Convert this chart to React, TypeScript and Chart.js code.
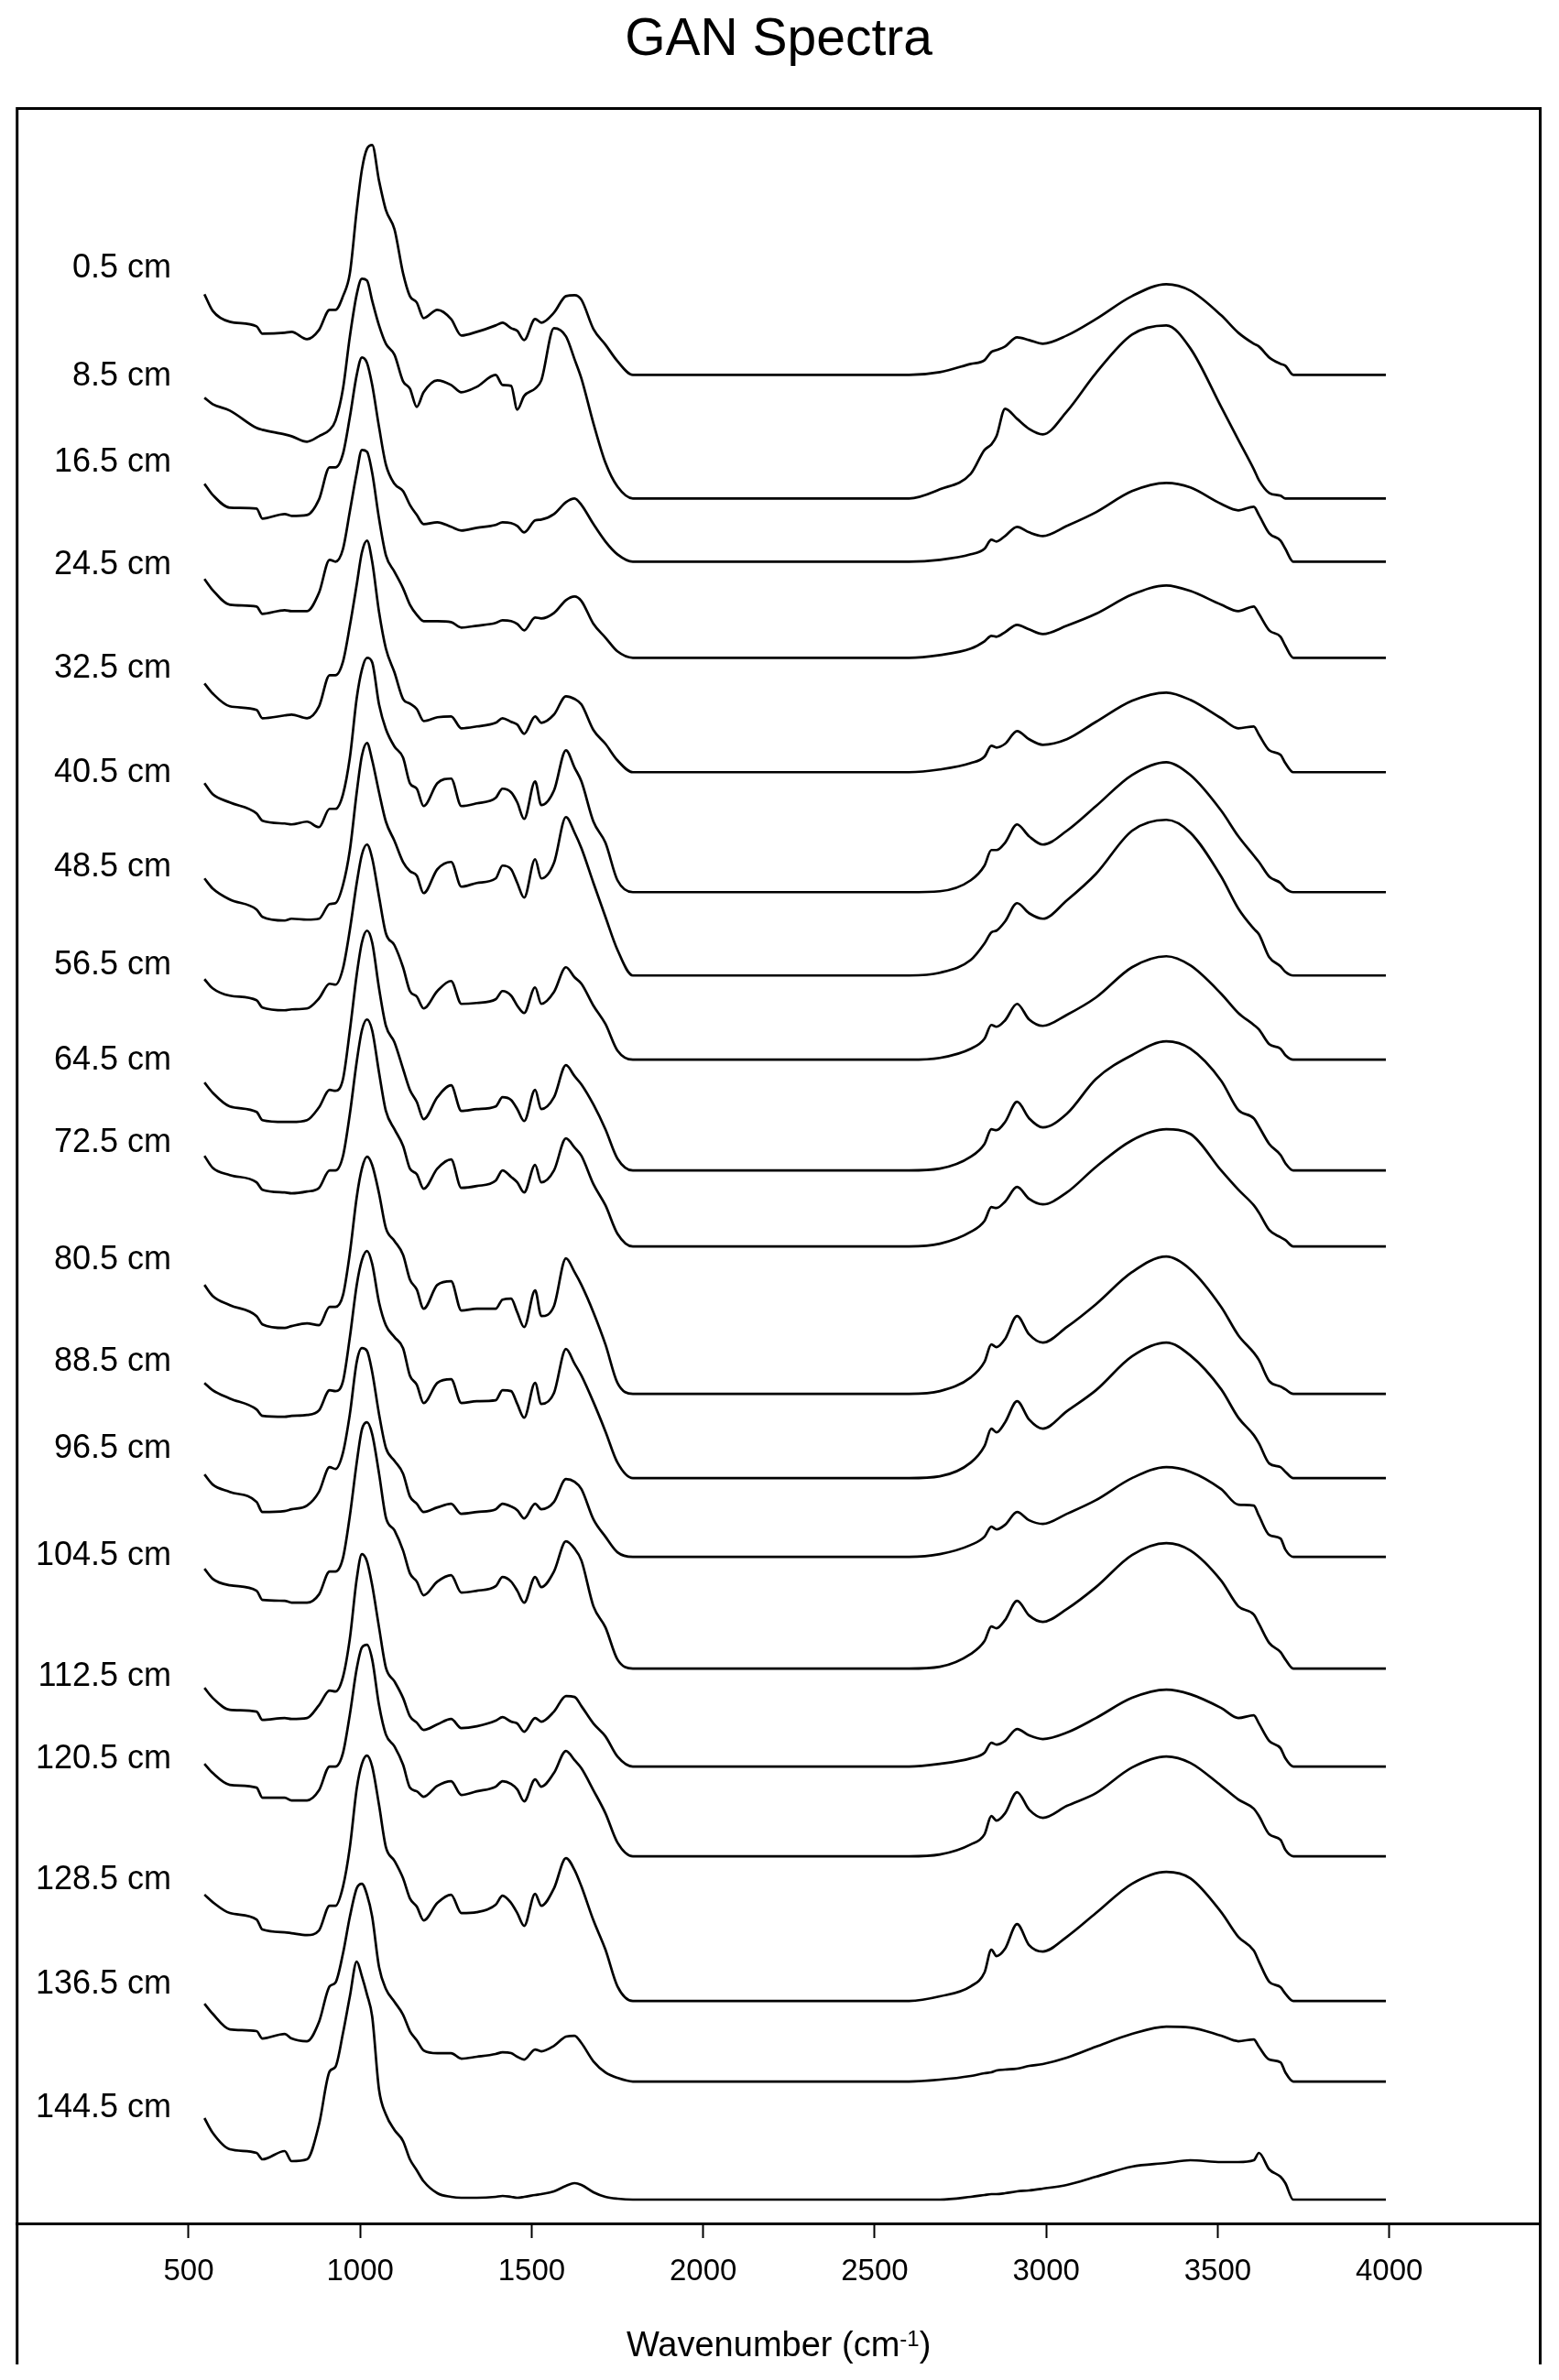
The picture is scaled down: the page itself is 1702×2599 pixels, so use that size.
import React, { useEffect, useRef } from 'react';
import { Chart, registerables } from 'chart.js';

Chart.register(...registerables);

const FONT = '"Liberation Sans", Arial, Helvetica, sans-serif';

const depths = [
  '0.5 cm', '8.5 cm', '16.5 cm', '24.5 cm', '32.5 cm', '40.5 cm', '48.5 cm',
  '56.5 cm', '64.5 cm', '72.5 cm', '80.5 cm', '88.5 cm', '96.5 cm', '104.5 cm',
  '112.5 cm', '120.5 cm', '128.5 cm', '136.5 cm', '144.5 cm',
];

// wavenumber grid (cm-1) shared by every spectrum
const wavenumbers = [
  546, 570, 620, 698, 715, 780, 800, 845, 880,
  911, 928, 950, 970, 990, 1005, 1020, 1035, 1055,
  1075, 1100, 1125, 1145, 1165, 1185, 1225, 1265, 1295,
  1340, 1395, 1415, 1440, 1458, 1478, 1510, 1528,
  1565, 1600, 1625, 1645, 1680, 1715, 1750, 1795,
  2600, 2690, 2780, 2820, 2840, 2855, 2880, 2915, 2950, 2990, 3060, 3145,
  3250, 3350, 3420, 3510, 3560, 3605, 3620, 3650, 3683, 3697, 3720, 3990,
];

// vertical offset of each spectrum in the stack
const baselines = [
  2.019, 1.884, 1.815, 1.710, 1.585, 1.454, 1.363, 1.271, 1.150, 1.067,
  0.906, 0.814, 0.728, 0.606, 0.499, 0.401, 0.243, 0.155, 0.026,
];

// level of the depth label next to each spectrum
const labelLevels = [
  2.135, 2.017, 1.923, 1.811, 1.698, 1.584, 1.481, 1.374, 1.270, 1.180,
  1.052, 0.941, 0.846, 0.729, 0.597, 0.507, 0.375, 0.261, 0.126,
];

const tickValues = [500, 1000, 1500, 2000, 2500, 3000, 3500, 4000];

const s0_5 = [
  .088, .070, .058, .053, .045, .046, .047, .039, .049,
  .071, .071, .086, .111, .180, .224, .247, .251, .212,
  .180, .159, .111, .086, .079, .062, .071, .061, .043,
  .047, .054, .057, .051, .048, .038, .061, .057,
  .068, .086, .087, .082, .050, .033, .015, 0,
  0, .003, .012, .016, .025, .027, .031, .041, .038, .034, .043, .061,
  .086, .099, .092, .065, .046, .034, .031, .019, .012, .010, 0, 0,
];
const s8_5 = [
  .110, .103, .096, .077, .075, .070, .068, .062, .068,
  .075, .085, .120, .177, .223, .240, .238, .216, .189,
  .169, .157, .128, .120, .100, .116, .129, .124, .116,
  .122, .135, .124, .123, .097, .112, .120, .129,
  .186, .177, .152, .131, .082, .039, .013, 0,
  0, .010, .027, .053, .059, .068, .098, .087, .076, .070, .095, .137,
  .179, .189, .164, .100, .064, .032, .020, .006, .003, 0, 0, 0,
];
const s16_5 = [
  .085, .073, .059, .058, .047, .052, .050, .051, .068,
  .103, .103, .118, .158, .204, .223, .217, .193, .147,
  .106, .085, .077, .062, .051, .041, .043, .038, .034,
  .037, .040, .043, .042, .039, .032, .045, .046,
  .052, .065, .069, .062, .041, .022, .008, 0,
  0, .002, .008, .014, .024, .022, .028, .038, .032, .028, .039, .054,
  .077, .086, .081, .063, .056, .060, .051, .031, .023, .014, 0, 0,
];
const s24_5 = [
  .086, .074, .058, .056, .048, .052, .051, .051, .071,
  .107, .105, .119, .160, .202, .227, .225, .202, .152,
  .112, .094, .076, .058, .047, .040, .040, .039, .033,
  .035, .038, .041, .040, .037, .030, .044, .043,
  .049, .063, .067, .062, .037, .022, .007, 0,
  0, .003, .010, .018, .024, .023, .028, .036, .031, .026, .035, .048,
  .069, .079, .073, .058, .051, .056, .048, .030, .023, .013, 0, 0,
];
const s32_5 = [
  .097, .086, .072, .068, .059, .062, .063, .059, .072,
  .106, .106, .121, .160, .205, .240, .253, .230, .175,
  .135, .109, .080, .075, .069, .056, .060, .061, .048,
  .050, .054, .059, .055, .052, .042, .061, .054,
  .063, .083, .080, .074, .046, .031, .013, 0,
  0, .003, .010, .017, .029, .027, .031, .045, .036, .030, .036, .055,
  .078, .087, .079, .059, .048, .050, .041, .024, .019, .010, 0, 0,
];
const s40_5 = [
  .119, .107, .098, .086, .078, .075, .074, .077, .071,
  .091, .091, .107, .147, .212, .243, .256, .251, .205,
  .178, .159, .147, .119, .113, .094, .119, .124, .094,
  .097, .103, .113, .109, .098, .080, .121, .095,
  .111, .155, .136, .121, .077, .054, .013, 0,
  0, .001, .013, .029, .046, .046, .054, .074, .061, .052, .067, .094,
  .128, .142, .128, .089, .061, .040, .033, .017, .010, .004, 0, 0,
];
const s48_5 = [
  .106, .095, .083, .072, .064, .060, .062, .061, .062,
  .078, .079, .099, .137, .200, .240, .254, .235, .200,
  .168, .147, .124, .114, .109, .090, .116, .124, .097,
  .101, .106, .120, .116, .101, .085, .127, .106,
  .123, .173, .156, .139, .101, .064, .028, 0,
  0, .003, .017, .035, .047, .049, .059, .079, .068, .062, .082, .111,
  .158, .170, .156, .108, .073, .051, .045, .020, .010, .004, 0, 0,
];
const s56_5 = [
  .088, .078, .070, .065, .057, .054, .055, .056, .067,
  .083, .082, .100, .142, .193, .224, .235, .220, .178,
  .138, .125, .101, .075, .069, .056, .075, .086, .061,
  .062, .066, .075, .070, .059, .051, .079, .061,
  .074, .101, .090, .083, .059, .039, .010, 0,
  0, .002, .012, .023, .038, .036, .043, .061, .044, .037, .049, .068,
  .101, .113, .103, .072, .051, .038, .033, .017, .012, .005, 0, 0,
];
const s64_5 = [
  .096, .085, .070, .064, .055, .053, .053, .055, .069,
  .088, .087, .100, .153, .214, .249, .262, .249, .199,
  .158, .140, .111, .088, .075, .056, .080, .093, .065,
  .067, .070, .080, .077, .067, .054, .088, .067,
  .080, .115, .103, .094, .072, .045, .013, 0,
  0, .002, .015, .029, .045, .044, .053, .075, .057, .047, .062, .100,
  .126, .141, .133, .098, .066, .057, .048, .029, .017, .008, 0, 0,
];
const s72_5 = [
  .099, .086, .078, .070, .062, .059, .058, .060, .064,
  .083, .083, .099, .145, .202, .236, .248, .236, .190,
  .148, .128, .110, .085, .079, .063, .085, .095, .064,
  .066, .072, .083, .076, .070, .059, .089, .070,
  .083, .118, .108, .099, .068, .045, .014, 0,
  0, .003, .016, .028, .043, .042, .049, .065, .052, .046, .059, .087,
  .116, .128, .123, .083, .062, .045, .037, .018, .010, .007, 0, 0,
];
const s80_5 = [
  .119, .107, .097, .085, .076, .072, .074, .077, .075,
  .095, .095, .108, .154, .215, .246, .259, .250, .219,
  .181, .167, .152, .125, .114, .093, .119, .123, .091,
  .093, .093, .103, .104, .089, .073, .113, .085,
  .096, .148, .133, .119, .089, .054, .012, 0,
  0, .003, .018, .035, .054, .051, .060, .085, .065, .056, .073, .098,
  .133, .150, .136, .095, .064, .045, .037, .014, .008, .005, 0, 0,
];
const s88_5 = [
  .104, .096, .087, .075, .068, .067, .068, .069, .074,
  .096, .095, .106, .154, .211, .238, .248, .234, .192,
  .167, .154, .142, .112, .102, .082, .104, .108, .082,
  .084, .085, .096, .095, .081, .066, .104, .081,
  .093, .141, .125, .112, .083, .051, .017, 0,
  0, .002, .017, .035, .054, .050, .061, .084, .064, .054, .073, .096,
  .133, .148, .134, .097, .066, .047, .038, .016, .012, .007, 0, 0,
];
const s96_5 = [
  .090, .079, .071, .060, .049, .050, .052, .056, .071,
  .098, .096, .114, .156, .213, .228, .225, .202, .156,
  .119, .105, .091, .066, .058, .049, .054, .058, .047,
  .049, .052, .058, .055, .051, .042, .058, .052,
  .060, .085, .082, .074, .041, .022, .005, 0,
  0, .003, .013, .022, .033, .030, .035, .049, .040, .036, .047, .062,
  .086, .098, .093, .074, .057, .056, .045, .024, .020, .008, 0, 0,
];
const s104_5 = [
  .109, .098, .091, .085, .075, .074, .072, .072, .081,
  .106, .106, .121, .167, .225, .261, .269, .256, .213,
  .165, .151, .129, .104, .095, .080, .095, .102, .083,
  .085, .090, .100, .095, .085, .072, .100, .089,
  .106, .139, .131, .118, .068, .045, .010, 0,
  0, .002, .016, .030, .046, .044, .053, .074, .058, .051, .065, .089,
  .124, .137, .129, .096, .068, .059, .049, .028, .018, .010, 0, 0,
];
const s112_5 = [
  .086, .075, .062, .060, .051, .053, .052, .053, .067,
  .083, .082, .098, .140, .205, .232, .224, .198, .152,
  .108, .093, .075, .055, .048, .040, .046, .052, .042,
  .044, .050, .054, .049, .047, .038, .053, .049,
  .060, .077, .076, .066, .047, .033, .011, 0,
  0, .003, .009, .015, .026, .024, .028, .041, .034, .030, .037, .053,
  .075, .084, .079, .064, .053, .056, .047, .028, .020, .009, 0, 0,
];
const s120_5 = [
  .101, .091, .078, .075, .064, .064, .061, .061, .072,
  .098, .098, .113, .155, .205, .228, .231, .215, .165,
  .133, .120, .100, .075, .071, .065, .077, .082, .067,
  .071, .076, .082, .079, .073, .060, .084, .076,
  .091, .115, .105, .096, .072, .047, .015, 0,
  0, .002, .013, .024, .044, .039, .047, .070, .051, .042, .055, .069,
  .097, .109, .102, .077, .062, .052, .044, .024, .018, .007, 0, 0,
];
const s128_5 = [
  .116, .108, .096, .089, .078, .075, .074, .072, .077,
  .104, .104, .125, .168, .232, .259, .268, .256, .214,
  .168, .153, .134, .112, .103, .088, .107, .116, .096,
  .097, .105, .115, .107, .096, .082, .117, .104,
  .123, .156, .143, .125, .088, .056, .016, 0,
  0, .005, .016, .031, .056, .049, .057, .084, .061, .054, .070, .096,
  .128, .141, .134, .097, .070, .055, .043, .021, .015, .008, 0, 0,
];
const s136_5 = [
  .085, .074, .057, .055, .047, .052, .047, .044, .065,
  .104, .108, .140, .180, .211, .216, .204, .180, .125,
  .101, .087, .073, .055, .045, .034, .031, .031, .025,
  .027, .030, .032, .031, .027, .024, .035, .033,
  .039, .049, .050, .042, .022, .010, .004, 0,
  0, .002, .006, .009, .010, .012, .013, .014, .017, .019, .026, .038,
  .052, .060, .059, .050, .044, .046, .038, .024, .021, .010, 0, 0,
];
const s144_5 = [
  .089, .073, .055, .051, .044, .053, .042, .044, .082,
  .140, .145, .182, .222, .260, .244, .224, .200, .120,
  .093, .076, .064, .044, .032, .020, .007, .003, .002,
  .002, .003, .004, .003, .002, .003, .005, .006,
  .009, .015, .018, .016, .008, .003, .001, 0,
  0, 0, .003, .005, .006, .006, .007, .009, .010, .012, .016, .025,
  .036, .040, .043, .041, .041, .043, .051, .033, .025, .018, 0, 0,
];

const spectra = [
  s0_5, s8_5, s16_5, s24_5, s32_5, s40_5, s48_5, s56_5, s64_5, s72_5,
  s80_5, s88_5, s96_5, s104_5, s112_5, s120_5, s128_5, s136_5, s144_5,
];

// frame, depth labels and the axis title with its superscript
const decorPlugin = {
  id: 'decor',
  afterDraw(chart: any) {
    const { ctx, chartArea, scales } = chart;
    const yScale = scales.y;
    ctx.save();

    ctx.strokeStyle = '#000';
    ctx.lineWidth = 3;
    ctx.beginPath();
    ctx.moveTo(chartArea.left, chart.height - 17);
    ctx.lineTo(chartArea.left, chartArea.top);
    ctx.lineTo(chartArea.right, chartArea.top);
    ctx.lineTo(chartArea.right, chart.height - 17);
    ctx.stroke();

    ctx.fillStyle = '#000';
    ctx.font = `36px ${FONT}`;
    ctx.textAlign = 'right';
    ctx.textBaseline = 'middle';
    depths.forEach((d, i) => {
      ctx.fillText(d, 187, yScale.getPixelForValue(labelLevels[i]));
    });

    const main = 'Wavenumber (cm';
    const sup = '-1';
    ctx.textAlign = 'left';
    ctx.textBaseline = 'alphabetic';
    ctx.font = `38px ${FONT}`;
    const w1 = ctx.measureText(main).width;
    const w3 = ctx.measureText(')').width;
    ctx.font = `24px ${FONT}`;
    const w2 = ctx.measureText(sup).width;
    const total = w1 + w2 + w3;
    const cx = (chartArea.left + chartArea.right) / 2;
    let x = cx - total / 2;
    const base = 2573;
    ctx.font = `38px ${FONT}`;
    ctx.fillText(main, x, base);
    x += w1;
    ctx.font = `24px ${FONT}`;
    ctx.fillText(sup, x, base - 11);
    x += w2;
    ctx.font = `38px ${FONT}`;
    ctx.fillText(')', x, base);

    ctx.restore();
  },
};

export default function App() {
  const canvasRef = useRef<HTMLCanvasElement>(null);
  const chartRef = useRef<Chart | null>(null);

  useEffect(() => {
    if (!canvasRef.current) return;
    if (chartRef.current) chartRef.current.destroy();

    const datasets = spectra.map((s, k) => ({
      label: depths[k],
      data: wavenumbers.map((wn, i) => ({ x: wn, y: baselines[k] + s[i] })),
      borderColor: '#000',
      borderWidth: 2.7,
      pointRadius: 0,
      fill: false,
      cubicInterpolationMode: 'monotone' as const,
    }));

    chartRef.current = new Chart(canvasRef.current, {
      type: 'line',
      data: { datasets },
      options: {
        animation: false,
        responsive: false,
        devicePixelRatio: 1,
        layout: { padding: { left: 18.7, right: 20.5, top: 0, bottom: 0 } },
        plugins: {
          legend: { display: false },
          tooltip: { enabled: false },
          title: {
            display: true,
            text: 'GAN Spectra',
            color: '#000',
            font: { family: FONT, size: 57, weight: 'normal' },
            padding: { top: 10, bottom: 40 },
          },
        },
        scales: {
          x: {
            type: 'linear',
            min: 0,
            max: 4440,
            afterBuildTicks: (scale: any) => {
              scale.ticks = tickValues.map((v) => ({ value: v }));
            },
            afterFit: (scale: any) => {
              scale.height = 171;
            },
            grid: {
              display: true,
              drawOnChartArea: false,
              drawTicks: true,
              tickLength: 16,
              tickWidth: 2,
              tickColor: '#000',
            },
            border: { display: true, color: '#000', width: 3 },
            ticks: {
              color: '#000',
              font: { family: FONT, size: 33 },
              padding: 17,
              maxRotation: 0,
              autoSkip: false,
              callback: (v: any) => String(v),
            },
          },
          y: {
            type: 'linear',
            display: false,
            min: 0,
            max: 2.31,
          },
        },
      } as any,
      plugins: [decorPlugin],
    });

    return () => {
      if (chartRef.current) {
        chartRef.current.destroy();
        chartRef.current = null;
      }
    };
  }, []);

  return (
    <div style={{ position: 'absolute', left: 0, top: 0, width: 1702, height: 2599, background: '#fff' }}>
      <canvas ref={canvasRef} width={1702} height={2599}></canvas>
    </div>
  );
}
